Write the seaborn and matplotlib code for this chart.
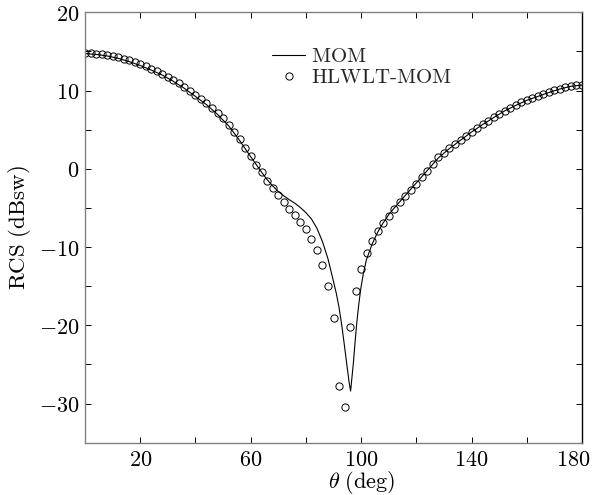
import matplotlib
matplotlib.use("Agg")
import matplotlib.pyplot as plt
import matplotlib.transforms as mtransforms
import seaborn as sns
import pandas as pd

# ---- data ----
theta_hlwlt = [0, 2, 4, 6, 8, 10, 12, 14, 16, 18, 20, 22, 24, 26, 28, 30, 32, 34, 36, 38,
               40, 42, 44, 46, 48, 50, 52, 54, 56, 58, 60, 62, 64, 66, 68, 70, 72, 74, 76, 78,
               80, 82, 84, 86, 88, 90, 92, 94, 96, 98, 100, 102, 104, 106, 108, 110, 112, 114, 116, 118,
               120, 122, 124, 126, 128, 130, 132, 134, 136, 138, 140, 142, 144, 146, 148, 150, 152, 154, 156, 158,
               160, 162, 164, 166, 168, 170, 172, 174, 176, 178, 180]
rcs_hlwlt = [14.76, 14.74, 14.70, 14.62, 14.52, 14.40, 14.25, 14.05, 13.85, 13.60,
             13.35, 13.10, 12.80, 12.50, 12.15, 11.75, 11.35, 10.95, 10.45, 9.90,
             9.40, 8.90, 8.35, 7.75, 7.10, 6.45, 5.65, 4.75, 3.75, 2.70,
             1.60, 0.55, -0.45, -1.50, -2.40, -3.35, -4.30, -5.10, -5.90, -6.75,
             -7.75, -8.95, -10.40, -12.30, -15.00, -19.10, -27.70, -30.50, -20.20, -15.65,
             -12.80, -10.75, -9.20, -8.00, -6.95, -6.00, -5.15, -4.30, -3.50, -2.70,
             -1.90, -1.10, -0.25, 0.65, 1.45, 2.05, 2.65, 3.15, 3.70, 4.25,
             4.75, 5.20, 5.70, 6.15, 6.60, 7.05, 7.45, 7.80, 8.15, 8.50,
             8.80, 9.05, 9.30, 9.55, 9.80, 10.05, 10.25, 10.45, 10.60, 10.70, 10.72]

theta_mom = [0, 4, 8, 12, 16, 20, 24, 28, 32, 36, 40, 44, 48, 52, 56, 60, 62, 64, 66, 68,
             70, 72, 74, 76, 78, 80, 82, 84, 86, 88, 90, 91, 92, 93, 94, 95, 95.7, 96.2, 96.7, 97.2,
             97.8, 98.4, 99, 99.8, 100.8, 101.9, 104, 106, 108, 110, 112, 114, 116, 118, 120, 122, 124,
             128, 132, 136, 140, 144, 148, 152, 156, 160, 164, 168, 172, 176, 180]
rcs_mom = [14.72, 14.62, 14.42, 14.12, 13.70, 13.20, 12.62, 11.98, 11.18, 10.28,
           9.25, 8.20, 6.95, 5.50, 3.62, 1.55, 0.55, -0.45, -1.40, -2.20,
           -2.90, -3.45, -3.95, -4.40, -4.95, -5.60, -6.40, -7.60, -9.30, -11.50,
           -14.40, -15.90, -17.70, -20.00, -22.70, -25.50, -27.40, -28.40, -26.60, -24.80,
           -22.20, -19.80, -17.80, -15.50, -13.40, -11.65, -9.60, -8.10, -6.90, -5.85,
           -5.00, -4.20, -3.40, -2.60, -1.80, -1.00, -0.20,
           1.40, 2.60, 3.65, 4.70, 5.65, 6.55, 7.40, 8.10, 8.75, 9.25, 9.75, 10.20, 10.55, 10.70]

x_ticks = [20, 40, 60, 80, 100, 120, 140, 160, 180]
x_tick_labels = ["$20$", "", "$60$", "", "$100$", "", "$140$", "", "$180$"]
y_ticks = [-30, -25, -20, -15, -10, -5, 0, 5, 10, 15, 20]
y_tick_labels = ["$-30$", "", "$-20$", "", "$-10$", "", "$0$", "", "$10$", "", "$20$"]

df_mom = pd.DataFrame({"theta": theta_mom, "rcs": rcs_mom})
df_hl = pd.DataFrame({"theta": theta_hlwlt, "rcs": rcs_hlwlt})

# ---- style ----
sns.set_theme(style="ticks")
plt.rcParams["font.family"] = ["DejaVu Serif"]
plt.rcParams["mathtext.fontset"] = "cm"

fig = plt.figure(figsize=(5.92, 4.95), dpi=100)
ax = fig.add_axes([85 / 592, 1 - 442.7 / 495, (582 - 85) / 592, (442.7 - 12.3) / 495])

sns.lineplot(data=df_mom, x="theta", y="rcs", ax=ax, color="black", linewidth=0.8,
             label=r"$\mathrm{MOM}$", sort=False, estimator=None)
sns.lineplot(data=df_hl, x="theta", y="rcs", ax=ax, color="black", linestyle="none",
             marker="o", markersize=5.2, markerfacecolor="none", markeredgecolor="black",
             markeredgewidth=0.7, label=r"$\mathrm{HLWLT\text{-}MOM}$", sort=False, estimator=None)

ax.set_xlim(0, 180)
ax.set_ylim(-35, 20)
ax.set_xticks(x_ticks)
ax.set_xticklabels(x_tick_labels)
ax.set_yticks(y_ticks)
ax.set_yticklabels(y_tick_labels)
ax.tick_params(direction="in", length=4, width=0.7, top=True, right=True,
               labelsize=16, colors="black")
ax.tick_params(axis="x", pad=4.5)
ax.tick_params(axis="y", pad=4.0)

# last x tick label is pulled inside the figure, as in the reference
last = ax.get_xticklabels()[-1]
last.set_transform(last.get_transform() +
                   mtransforms.ScaledTranslation(-9 / 100, 0, fig.dpi_scale_trans))

for side in ["left", "bottom", "top"]:
    ax.spines[side].set_color("#808080")
    ax.spines[side].set_linewidth(1.0)
ax.spines["right"].set_color("black")
ax.spines["right"].set_linewidth(1.0)
for side in ["left", "bottom", "top", "right"]:
    ax.spines[side].set_visible(True)

ax.set_xlabel(r"$\theta\ \mathrm{(deg)}$", fontsize=16, color="black")
ax.set_ylabel(r"$\mathrm{RCS\ (dBsw)}$", fontsize=16.5, color="black")
ax.xaxis.set_label_coords(0.557, -0.061)
ax.yaxis.set_label_coords(-0.105, 0.5)

handles, labels = ax.get_legend_handles_labels()
ax.legend(handles, labels, loc="upper left", bbox_to_anchor=(0.368, 0.929), frameon=False,
          fontsize=15, handlelength=1.6, handletextpad=0.25, labelspacing=0.1,
          borderpad=0.2, borderaxespad=0.0, numpoints=1)

fig.savefig("out.png", dpi=100)
